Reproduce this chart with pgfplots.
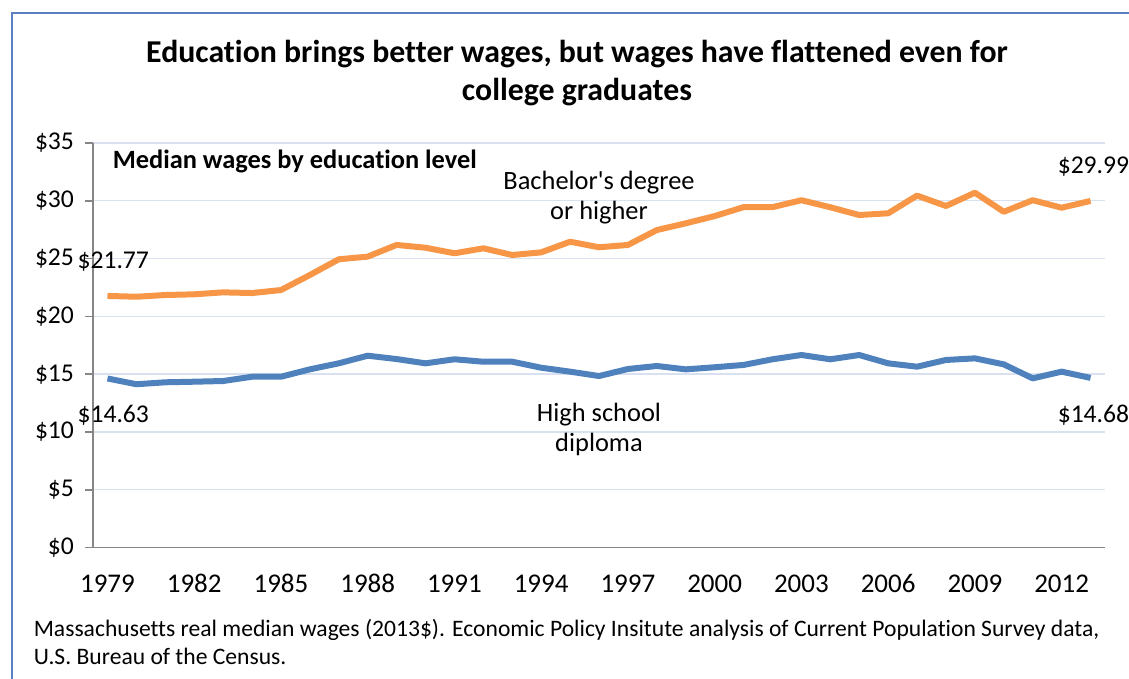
\documentclass[border=0pt]{standalone}
\usepackage{fontspec}
\setmainfont{Carlito}[Ligatures=NoCommon]
\usepackage{pgfplots}
\pgfplotsset{compat=1.18}
\usepackage{pgfplotstable}

\definecolor{bachorange}{HTML}{F79646}
\definecolor{hsblue}{HTML}{4F81BD}
\definecolor{gridblue}{HTML}{D9E1F1}
\definecolor{axisgray}{HTML}{868686}
\definecolor{framblue}{HTML}{5B7FBF}

% Massachusetts real median wages (2013$)
\pgfplotstableread{
year bach hs
1979 21.77 14.63
1980 21.70 14.13
1981 21.85 14.30
1982 21.91 14.35
1983 22.08 14.41
1984 22.02 14.78
1985 22.28 14.78
1986 23.58 15.42
1987 24.94 15.94
1988 25.17 16.60
1989 26.18 16.31
1990 25.94 15.94
1991 25.46 16.29
1992 25.89 16.08
1993 25.31 16.08
1994 25.54 15.56
1995 26.46 15.22
1996 25.98 14.84
1997 26.18 15.45
1998 27.47 15.71
1999 28.05 15.42
2000 28.68 15.60
2001 29.45 15.80
2002 29.45 16.29
2003 30.05 16.66
2004 29.44 16.29
2005 28.77 16.66
2006 28.92 15.94
2007 30.45 15.65
2008 29.55 16.23
2009 30.70 16.37
2010 29.05 15.85
2011 30.05 14.64
2012 29.40 15.22
2013 29.99 14.68
}\wages

\begin{document}
\begin{tikzpicture}
\path[use as bounding box] (0,0) rectangle (564.5pt,339.5pt);
% chart frame (cut at right and bottom)
\draw[framblue, line width=0.9pt] (6pt,0) -- (6pt,333pt) -- (564.5pt,333pt);

\begin{axis}[
    at={(46.5pt,65.7pt)}, anchor=south west,
    scale only axis,
    width=506pt, height=202.3pt,
    xmin=1978.5, xmax=2013.5,
    ymin=0, ymax=35,
    xtick={1979,1982,...,2012},
    ytick={0,5,...,35},
    axis x line*=bottom, axis y line*=left,
    axis line style={axisgray, line width=0.8pt, -},
    x axis line style={-}, y axis line style={-},
    tick align=outside,
    xtick style={draw=none},
    ytick style={axisgray, line width=0.8pt},
    major tick length=4pt,
    ymajorgrids,
    grid style={gridblue, line width=0.7pt},
    /pgf/number format/assume math mode=true,
    /pgf/number format/1000 sep={},
    ticklabel style={font=\fontsize{12.8}{15}\selectfont},
    yticklabel={\$\pgfmathprintnumber{\tick}},
    yticklabel style={xshift=-2pt},
    xticklabel style={font=\fontsize{13.5}{15}\selectfont, text height=9.5pt, text depth=0pt, anchor=north, yshift=-5.5pt},
    clip=false,
]
\addplot[hsblue, line width=3pt, line join=round] table[x=year, y=hs] {\wages};
\addplot[bachorange, line width=3pt, line join=round] table[x=year, y=bach] {\wages};

\node[font=\fontsize{12.8}{15}\selectfont] at (axis cs:1979.2,24.7) {\$21.77};
\node[font=\fontsize{12.8}{15}\selectfont] at (axis cs:1979.2,11.47) {\$14.63};
\node[font=\fontsize{12.8}{15}\selectfont] at (axis cs:2013.1,32.95) {\$29.99};
\node[font=\fontsize{12.8}{15}\selectfont] at (axis cs:2013.1,11.47) {\$14.68};
\node[font=\fontsize{13.2}{15}\selectfont, align=center] at (axis cs:1996.0,30.24) {Bachelor\textquotesingle s degree\\or higher};
\node[font=\fontsize{13.2}{15}\selectfont, align=center] at (axis cs:1996.0,10.23) {High school\\diploma};
\node[font=\bfseries\fontsize{13.2}{15}\selectfont, anchor=west, inner sep=0pt] at (axis cs:1979.17,33.38) {Median wages by education level};
\end{axis}

\node[font=\bfseries\fontsize{15.9}{19}\selectfont, anchor=base] at (288.5pt,308pt) {Education brings better wages, but wages have flattened even for};
\node[font=\bfseries\fontsize{15.9}{19}\selectfont, anchor=base] at (288.5pt,289pt) {college graduates};

\node[font=\fontsize{11.8}{14}\selectfont, anchor=base west, inner sep=0pt] at (16.7pt,21.15pt) {Massachusetts real median wages (2013\$). Economic Policy Insitute analysis of Current Population Survey data,};
\node[font=\fontsize{11.8}{14}\selectfont, anchor=base west, inner sep=0pt] at (16.7pt,7pt) {U.S. Bureau of the Census.};
\end{tikzpicture}
\end{document}
